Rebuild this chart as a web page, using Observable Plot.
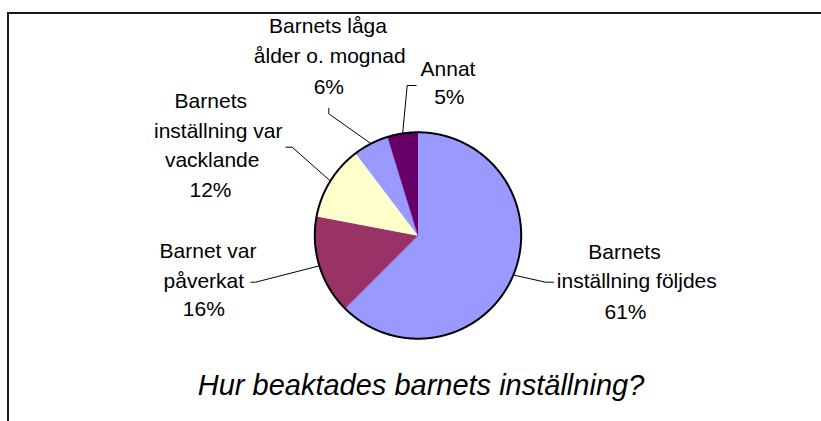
<!DOCTYPE html>
<html><head><meta charset="utf-8">
<script src="https://cdn.jsdelivr.net/npm/d3@7"></script>
<script src="https://cdn.jsdelivr.net/npm/@observablehq/plot@0.6"></script>
<style>
html,body{margin:0;padding:0;background:#fff;}
#wrap{position:relative;width:821px;height:421px;overflow:hidden;font-family:"Liberation Sans",Arial,sans-serif;}
#frame{position:absolute;left:7px;top:12px;width:900px;height:500px;border-left:2px solid #1a1a1a;border-top:2px solid #1a1a1a;}
#chart{position:absolute;left:0;top:0;}
#title{position:absolute;left:0;width:842px;text-align:center;font-style:italic;font-size:29px;line-height:36px;top:367px;color:#000;}
</style></head>
<body><div id="wrap"><div id="frame"></div><div id="chart"></div><div id="title"></div></div>
<script>
// ---- data ----
const categories = ["Barnets inställning följdes", "Barnet var påverkat", "Barnets inställning var vacklande", "Barnets låga ålder o. mognad", "Annat"];
const shares = [62.5, 15.5, 11.7, 5.55, 4.75];          // slice sizes as drawn
const percentLabels = ["61%", "16%", "12%", "6%", "5%"]; // printed labels
const labelLines = [["Barnets", "inställning följdes"], ["Barnet var", "påverkat"], ["Barnets", "inställning var", "vacklande"], ["Barnets låga", "ålder o. mognad"], ["Annat"]];
const colors = ["#9999FF", "#993366", "#FFFFCC", "#9999FF", "#660066"];
const chartTitle = "Hur beaktades barnets inställning?";

// ---- layout (pixels) ----
const cx = 417.5, cy = 235, R = 103.2;
const labelLayout = [
  [[624, 258.5], [636.3, 287], [625, 318]],
  [[207.5, 257.3], [203.3, 287], [203.3, 315.5]],
  [[210.3, 107.3], [217.7, 137.3], [211.7, 166.7], [210, 196.7]],
  [[327.5, 32.3], [329.2, 62.7], [328.3, 93]],
  [[447.5, 75], [448.8, 103.5]]
];
const leaderLayout = [
  [[545, 281.7], [553.3, 281.7]],
  [[255, 281.7], [250, 281.7]],
  [[291.7, 146.7], [285, 146.7]],
  [[328.3, 113.3], [328.3, 107.3]],
  [[406.7, 85], [416, 85]]
];

const ux = v => (v - cx) / R, uy = v => (cy - v) / R;
const arcs = d3.pie().sort(null).value(d => d)(shares);
const step = Math.PI / 720;
function arcPoints(a0, a1) {
  const n = Math.max(2, Math.ceil((a1 - a0) / step));
  return d3.range(n + 1).map(k => { const a = a0 + (a1 - a0) * k / n; return [Math.sin(a), Math.cos(a)]; });
}
const slicePts = [], outlinePts = [], leaderPts = [], textRows = [];
arcs.forEach((arc, i) => {
  const pts = arcPoints(arc.startAngle, arc.endAngle);
  slicePts.push({x: 0, y: 0, i, c: colors[i]});
  pts.forEach(([x, y]) => slicePts.push({x, y, i, c: colors[i]}));
  pts.forEach(([x, y]) => outlinePts.push({x, y}));
  const mid = (arc.startAngle + arc.endAngle) / 2;
  leaderPts.push({x: Math.sin(mid), y: Math.cos(mid), i});
  leaderLayout[i].forEach(([px, py]) => leaderPts.push({x: ux(px), y: uy(py), i}));
  const lines = [...labelLines[i], percentLabels[i]];
  lines.forEach((t, k) => textRows.push({x: ux(labelLayout[i][k][0]), y: uy(labelLayout[i][k][1]), t}));
});

const chart = Plot.plot({
  width: 821, height: 360, margin: 0,
  x: {domain: [-1, 1], range: [cx - R, cx + R], axis: null},
  y: {domain: [-1, 1], range: [cy + R, cy - R], axis: null},
  color: {type: "identity"},
  style: {background: "transparent", fontFamily: "'Liberation Sans', Arial, sans-serif", overflow: "visible"},
  marks: [
    Plot.line(slicePts, {x: "x", y: "y", z: "i", fill: "c", stroke: "c", strokeWidth: 0.5, curve: "linear"}),
    Plot.line(outlinePts, {x: "x", y: "y", stroke: "#000", strokeWidth: 2, fill: "none"}),
    Plot.line(leaderPts, {x: "x", y: "y", z: "i", stroke: "#000", strokeWidth: 1, strokeLinecap: "butt", strokeLinejoin: "miter"}),
    Plot.text(textRows, {x: "x", y: "y", text: "t", textAnchor: "middle", lineAnchor: "bottom", fontSize: 21, fill: "#000"})
  ]
});
document.getElementById("chart").appendChild(chart);
document.getElementById("title").textContent = chartTitle;
</script>
</body></html>
